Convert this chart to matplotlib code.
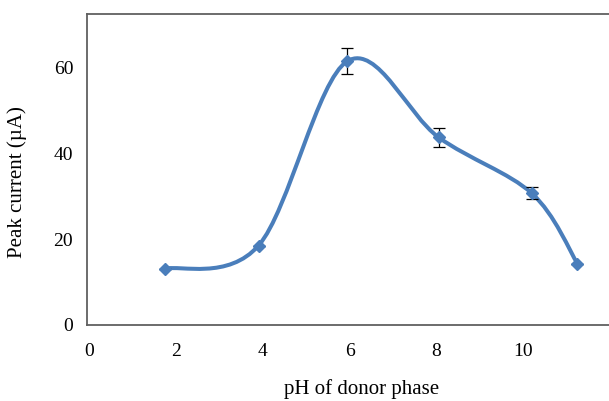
import matplotlib.pyplot as plt
from matplotlib.path import Path
from matplotlib.patches import PathPatch

# data
ph = [1.75, 3.9, 5.95, 8.05, 10.2, 11.25]
current = [13.1, 18.5, 61.6, 43.8, 30.7, 14.3]
err = [0, 0, 3.0, 2.2, 1.4, 0]
xticks = [0, 2, 4, 6, 8, 10]
yticks = [0, 20, 40, 60]

plt.rcParams['font.family'] = ['Liberation Serif', 'DejaVu Serif']

fig = plt.figure(figsize=(6.09, 4.01), dpi=100)
ax = fig.add_axes([0.143, 0.19, 0.9, 0.775])
blue = '#4a7ebb'

# smoothed line (Excel-style Bezier through the points)
pts = list(zip(ph, current))
verts = [pts[0]]
codes = [Path.MOVETO]
n = len(pts)
for i in range(n - 1):
    p0 = pts[max(i - 1, 0)]
    p1 = pts[i]
    p2 = pts[i + 1]
    p3 = pts[min(i + 2, n - 1)]
    c1 = (p1[0] + (p2[0] - p0[0]) / 6, p1[1] + (p2[1] - p0[1]) / 6)
    c2 = (p2[0] - (p3[0] - p1[0]) / 6, p2[1] - (p3[1] - p1[1]) / 6)
    verts += [c1, c2, p2]
    codes += [Path.CURVE4] * 3
ax.add_patch(PathPatch(Path(verts, codes), fill=False, edgecolor=blue, lw=2.9,
                       capstyle='round', zorder=2))

ax.errorbar(ph, current, yerr=err, fmt='none', ecolor='black', elinewidth=0.9,
            capsize=4, capthick=0.9, zorder=3)
ax.plot(ph, current, linestyle='none', marker='D', markersize=6, color=blue, zorder=4)

ax.set_xlim(-0.05, 12.58)
ax.set_ylim(0, 72.6)
ax.set_xticks(xticks)
ax.set_yticks(yticks)
ax.tick_params(length=0, labelsize=14)
ax.tick_params(axis='x', pad=13)
ax.tick_params(axis='y', pad=10)
for s in ['left', 'bottom', 'top']:
    ax.spines[s].set_color('#606060')
    ax.spines[s].set_linewidth(1.3)
ax.spines['right'].set_visible(False)

ax.set_xlabel('pH of donor phase', fontsize=15, labelpad=14)
ax.set_ylabel('Peak current (µA)', fontsize=15)
ax.yaxis.set_label_coords(-0.11, 0.46)

fig.savefig('out.png', dpi=100)
